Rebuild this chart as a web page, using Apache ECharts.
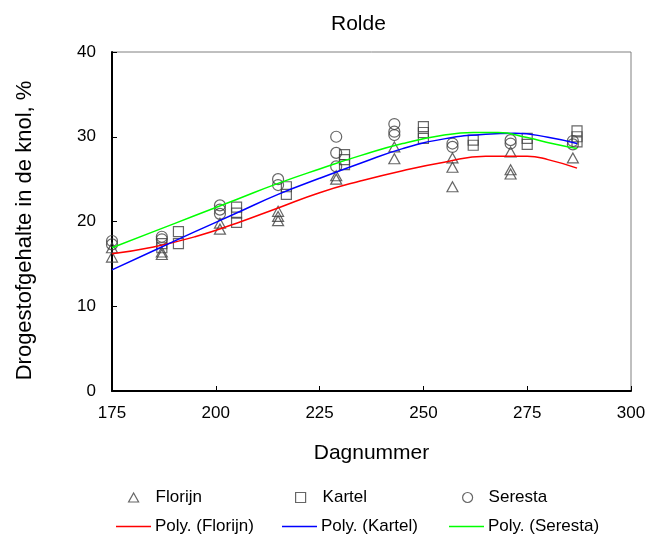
<!DOCTYPE html>
<html>
<head>
<meta charset="utf-8">
<script src="https://cdn.jsdelivr.net/npm/echarts@6/dist/echarts.min.js"></script>
<style>
  html, body { margin: 0; padding: 0; background: #fff; }
  #chart { width: 653px; height: 542px; }
</style>
</head>
<body>
<div id="chart"></div>
<script>
// measured points [dag, drogestof %]
const florijn = [
  [175, 16.9], [175, 15.8],
  [187, 16.4], [187, 16.1],
  [201, 19.8], [201, 19.1],
  [215, 21.2], [215, 20.6], [215, 20.1],
  [229, 25.4], [229, 25.0],
  [243, 28.8], [243, 27.4],
  [257, 27.5], [257, 26.4], [257, 24.1],
  [271, 28.2], [271, 26.1], [271, 25.6],
  [286, 27.5]
];
const kartel = [
  [187, 17.4], [187, 16.9],
  [191, 18.8], [191, 17.4],
  [205, 21.7], [205, 21.0], [205, 19.9],
  [217, 24.1], [217, 23.2],
  [231, 27.9], [231, 27.3], [231, 26.7],
  [250, 31.2], [250, 30.5], [250, 29.8],
  [262, 29.6], [262, 29.0],
  [275, 29.8], [275, 29.1],
  [287, 30.7], [287, 30.0], [287, 29.4]
];
const seresta = [
  [175, 17.7], [175, 17.3],
  [187, 18.2], [187, 17.9],
  [201, 21.9], [201, 21.4], [201, 20.9],
  [215, 25.0], [215, 24.3],
  [229, 30.0], [229, 28.1], [229, 26.5],
  [243, 31.5], [243, 30.6], [243, 30.2],
  [257, 29.2], [257, 28.8],
  [271, 29.6], [271, 29.2],
  [286, 29.5], [286, 29.1]
];

// trendlines
const polyFlorijn = [
  [175, 16.2], [185, 17.0], [195, 18.2], [205, 19.8], [215, 21.6], [225, 23.4],
  [235, 24.8], [245, 26.0], [255, 27.0], [265, 27.7], [275, 27.7], [280, 27.3], [287, 26.3]
];
const polyKartel = [
  [175, 14.3], [185, 16.55], [195, 18.8], [205, 21.0], [215, 23.2], [225, 25.1],
  [235, 26.9], [245, 28.6], [255, 29.75], [265, 30.3], [272, 30.4], [280, 29.95], [287, 29.2]
];
const polySeresta = [
  [175, 16.9], [185, 18.8], [195, 20.7], [205, 22.6], [215, 24.5], [225, 26.2],
  [235, 27.8], [245, 29.2], [255, 30.2], [262, 30.5], [268, 30.5], [275, 29.9], [281, 29.2], [287, 28.6]
];

const FONT = '"Liberation Sans", Arial, sans-serif';
const markerStyle = { color: 'rgba(255,255,255,0)', borderColor: '#404040', borderWidth: 1.2 };

const chart = echarts.init(document.getElementById('chart'));

function legendItem(name, left, top, icon, w, h, style, gap) {
  return {
    left: left,
    top: top,
    itemWidth: w,
    itemHeight: h,
    padding: 0,
    textStyle: { fontFamily: FONT, fontSize: 17, color: '#000', padding: [0, 0, 0, gap] },
    data: [{ name: name, icon: icon, itemStyle: style }]
  };
}

const option = {
  animation: false,
  backgroundColor: '#fff',
  title: {
    text: 'Rolde',
    left: 326,
    top: 9,
    textStyle: { fontFamily: FONT, fontSize: 21, fontWeight: 'normal', color: '#000' }
  },
  grid: {
    left: 112,
    right: 22,
    top: 52,
    bottom: 151,
    show: true,
    borderColor: '#808080',
    borderWidth: 1
  },
  legend: [
    legendItem('Florijn', 128, 489, 'triangle', 10, 9, markerStyle, 12),
    legendItem('Kartel', 295, 489, 'rect', 10, 10, markerStyle, 12),
    legendItem('Seresta', 462, 489, 'circle', 10, 10, markerStyle, 11),
    legendItem('Poly. (Florijn)', 116, 518, 'rect', 35, 1.5, { color: '#ff0000' }, -1),
    legendItem('Poly. (Kartel)', 282, 518, 'rect', 35, 1.5, { color: '#0000ff' }, -1),
    legendItem('Poly. (Seresta)', 449, 518, 'rect', 35, 1.5, { color: '#00ff00' }, -1)
  ],
  xAxis: {
    type: 'value',
    min: 175,
    max: 300,
    interval: 25,
    name: 'Dagnummer',
    nameLocation: 'middle',
    nameGap: 52,
    nameTextStyle: { fontFamily: FONT, fontSize: 21, color: '#000' },
    axisLine: { onZero: false, lineStyle: { color: '#000', width: 2 } },
    axisTick: { inside: true, length: 5, lineStyle: { color: '#000' } },
    axisLabel: { fontFamily: FONT, fontSize: 17, color: '#000', margin: 14 },
    splitLine: { show: false }
  },
  yAxis: {
    type: 'value',
    min: 0,
    max: 40,
    interval: 10,
    name: 'Drogestofgehalte in de knol, %',
    nameLocation: 'middle',
    nameGap: 76,
    nameTextStyle: { fontFamily: FONT, fontSize: 22, color: '#000', padding: [0, 18, 0, 0] },
    axisLine: { onZero: false, lineStyle: { color: '#000', width: 2 } },
    axisTick: { inside: true, length: 5, lineStyle: { color: '#000' } },
    axisLabel: { fontFamily: FONT, fontSize: 17, color: '#000', margin: 16 },
    splitLine: { show: false }
  },
  series: [
    { name: 'Florijn', type: 'scatter', symbol: 'triangle', symbolSize: [11, 10], data: florijn, itemStyle: markerStyle, z: 2 },
    { name: 'Kartel', type: 'scatter', symbol: 'rect', symbolSize: 10, data: kartel, itemStyle: markerStyle, z: 2 },
    { name: 'Seresta', type: 'scatter', symbol: 'circle', symbolSize: 11, data: seresta, itemStyle: markerStyle, z: 2 },
    { name: 'Poly. (Florijn)', type: 'line', smooth: true, symbol: 'none', data: polyFlorijn, lineStyle: { color: '#ff0000', width: 1.5 }, itemStyle: { color: '#ff0000' }, z: 3 },
    { name: 'Poly. (Kartel)', type: 'line', smooth: true, symbol: 'none', data: polyKartel, lineStyle: { color: '#0000ff', width: 1.5 }, itemStyle: { color: '#0000ff' }, z: 3 },
    { name: 'Poly. (Seresta)', type: 'line', smooth: true, symbol: 'none', data: polySeresta, lineStyle: { color: '#00ff00', width: 1.5 }, itemStyle: { color: '#00ff00' }, z: 3 }
  ]
};

chart.setOption(option);
</script>
</body>
</html>
